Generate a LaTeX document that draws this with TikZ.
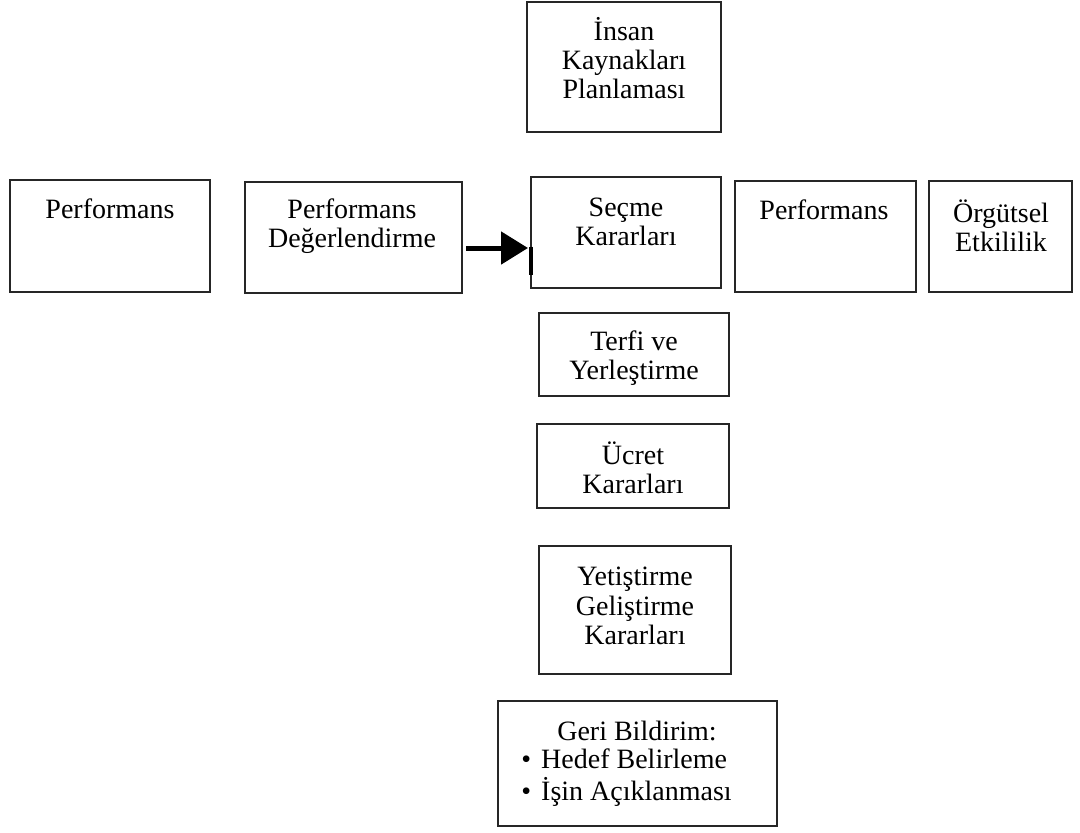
\documentclass[tikz,border=0pt]{standalone}
\usepackage{fontspec}
\setmainfont{Liberation Serif}
\usetikzlibrary{arrows.meta}
\begin{document}
\begin{tikzpicture}[x=0.5pt,y=-0.5pt,
  box/.style 2 args={draw=black!85, line width=1.25pt, fill=white,
    minimum width=#1*0.5pt, minimum height=#2*0.5pt, inner sep=0pt, outer sep=0pt},
  txt/.style={align=center, inner sep=0pt, font=\fontsize{14pt}{14.6pt}\selectfont},
  flow/.style={line width=2.5pt, -{Triangle[length=13.5pt,width=16pt]}}]
\useasboundingbox (0,0) rectangle (1080,832);

% boxes
\node[box={194}{130}] (ikp)  at (624,67)     {};
\node[box={200}{112}] (pl)   at (110,236)    {};
\node[box={217}{111}] (pd)   at (353.5,237.5){};
\node[box={190}{111}] (sec)  at (626,232.5)  {};
\node[box={181}{111}] (pr)   at (825.5,236.5){};
\node[box={143}{111}] (org)  at (1000.5,236.5){};
\node[box={190}{83}]  (ter)  at (634,354.5)  {};
\node[box={192}{84}]  (ucr)  at (633,466)    {};
\node[box={192}{128}] (yet)  at (635,610)    {};
\node[box={279}{125}] (geri) at (637.5,763.5){};

% labels
\node[txt] (ikp-t) at (624,58)  {İnsan\\Kaynakları\\Planlaması};
\node[txt] (pl-t)  at (110,209) {Performans};
\node[txt] (pd-t)  at (352,226) {Performans\\Değerlendirme};
\node[txt] (sec-t) at (626,222) {Seçme\\Kararları};
\node[txt] (pr-t)  at (824,210) {Performans};
\node[txt] (org-t) at (1001,226){Örgütsel\\Etkililik};
\node[txt] (ter-t) at (634,358) {Terfi ve\\Yerleştirme};
\node[txt] (ucr-t) at (633,468) {Ücret\\Kararları};
\node[txt] (yet-t) at (635,606) {Yetiştirme\\Geliştirme\\Kararları};
\node[txt] (geri-t) at (637,731) {Geri Bildirim:};
\node[txt, align=left, anchor=west] (geri-l) at (521,778)
  {•\hspace{5pt}Hedef Belirleme\\[1.5pt]•\hspace{5pt}İşin Açıklanması};

% connector
\draw[flow] ([shift={(4,10.5)}]pd.east) -- ([shift={(-3,15.5)}]sec.west);
\draw[line width=2pt] ([yshift=-13.5pt*0+0pt, shift={(0,14)}]sec.west) -- ([shift={(0,42)}]sec.west);
\end{tikzpicture}
\end{document}
